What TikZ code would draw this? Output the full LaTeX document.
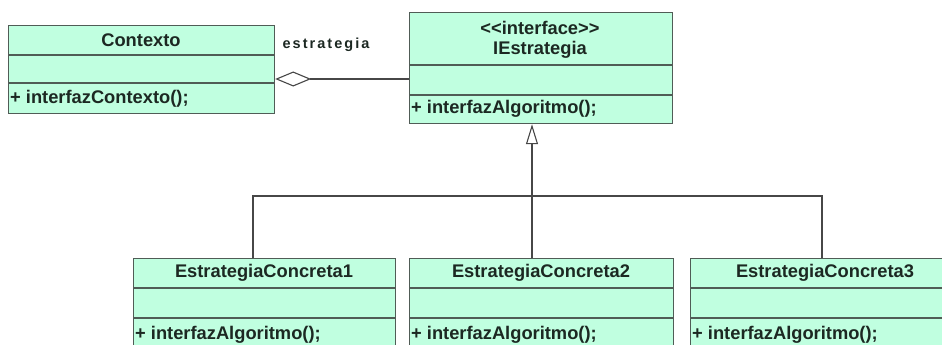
\documentclass[tikz,border=0pt]{standalone}
\usepackage{fontspec}
\setmainfont{Liberation Sans}
\usetikzlibrary{arrows.meta}
\definecolor{boxfill}{RGB}{192,255,224}
\definecolor{boxline}{RGB}{80,92,86}
\definecolor{txt}{RGB}{28,40,34}
\begin{document}
\begin{tikzpicture}[x=1pt,y=-1pt,
  umlbox/.style={draw=boxline, fill=boxfill, line width=1.2pt, inner sep=0pt, anchor=north west},
  sep/.style={draw=boxline, line width=1.2pt},
  lbl/.style={font=\fontsize{18.3}{22}\selectfont\bfseries, text=txt, inner sep=0pt},
  oplbl/.style={lbl, anchor=west},
  rolelbl/.style={font=\fontsize{14.5}{18}\selectfont\bfseries\addfontfeature{LetterSpace=14}, text=txt, inner sep=0pt},
  conn/.style={draw=black!72, line width=1.1pt}]
\useasboundingbox (0,0) rectangle (942,345);
\begin{scope}
\clip (0,0) rectangle (942,345);
% Contexto
\node[umlbox, minimum width=266pt, minimum height=88pt] (ctx) at (8,25) {};
\draw[sep] (8,55) -- (274,55);
\draw[sep] (8,83) -- (274,83);
\node[lbl] (ctxname) at (141,40) {Contexto};
\node[oplbl] (ctxop) at (10,99) {+ interfazContexto();};
% IEstrategia
\node[umlbox, minimum width=263pt, minimum height=111pt] (ie) at (409,12) {};
\draw[sep] (409,65) -- (672,65);
\draw[sep] (409,95) -- (672,95);
\node[lbl] (iester) at (540,28) {<\kern0pt<interface>\kern0pt>};
\node[lbl] (iename) at (540,50) {IEstrategia};
\node[oplbl] (ieop) at (411,109) {+ interfazAlgoritmo();};
% EstrategiaConcreta1
\node[umlbox, minimum width=262pt, minimum height=100pt] (ec1) at (133,258) {};
\draw[sep] (133,288) -- (395,288);
\draw[sep] (133,318) -- (395,318);
\node[lbl] (ec1name) at (264,273) {EstrategiaConcreta1};
\node[oplbl] (ec1op) at (135,335) {+ interfazAlgoritmo();};
% EstrategiaConcreta2
\node[umlbox, minimum width=264pt, minimum height=100pt] (ec2) at (409,258) {};
\draw[sep] (409,288) -- (673,288);
\draw[sep] (409,318) -- (673,318);
\node[lbl] (ec2name) at (541,273) {EstrategiaConcreta2};
\node[oplbl] (ec2op) at (411,335) {+ interfazAlgoritmo();};
% EstrategiaConcreta3
\node[umlbox, minimum width=270pt, minimum height=100pt] (ec3) at (690,258) {};
\draw[sep] (690,288) -- (960,288);
\draw[sep] (690,318) -- (960,318);
\node[lbl] (ec3name) at (825,273) {EstrategiaConcreta3};
\node[oplbl] (ec3op) at (692,335) {+ interfazAlgoritmo();};
\end{scope}
% aggregation
\draw[conn, {Diamond[open, length=36pt, width=15pt, line width=1.1pt]}-] (ctx.east |- 0,79) -- (ie.west |- 0,79);
\node[rolelbl] (role) at (326,45) {estrategia};
% generalization
\coordinate (jn) at (532,196);
\coordinate (h1) at (253,196);
\coordinate (h3) at (822,196);
\draw[conn, -{Triangle[open, length=20pt, width=12pt, line width=1.1pt]}] (jn |- ec2.north) -- (jn |- ie.south);
\draw[conn] (h1 |- ec1.north) -- (h1) -- (h3) -- (h3 |- ec3.north);
\end{tikzpicture}
\end{document}
